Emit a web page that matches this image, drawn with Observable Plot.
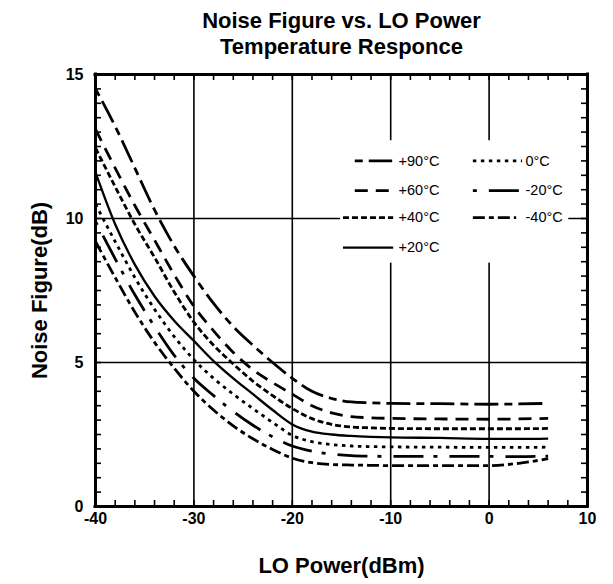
<!DOCTYPE html>
<html>
<head>
<meta charset="utf-8">
<script src="https://cdn.jsdelivr.net/npm/d3@7"></script>
<script src="https://cdn.jsdelivr.net/npm/@observablehq/plot@0.6"></script>
<style>
  html, body { margin: 0; padding: 0; background: #fff; overflow: hidden; }
  #chart svg { display: block; }
</style>
</head>
<body>
<div id="chart"></div>
<script>
// ---- data ----
const loPower = [-40,-38,-36,-34,-32,-30,-28,-26,-24,-22,-20,-18,-16,-14,-12,-10,-5,0,3,6];
const nfP90 = [14.5,13.2,11.75,10.3,9.05,8.0,7.05,6.25,5.6,5.0,4.45,4.0,3.75,3.63,3.6,3.58,3.57,3.55,3.56,3.58];
const nfP60 = [13.1,11.75,10.45,9.25,8.05,6.95,6.1,5.35,4.75,4.3,3.9,3.5,3.25,3.12,3.08,3.06,3.04,3.03,3.04,3.06];
const nfP40 = [12.45,11.1,9.8,8.65,7.45,6.4,5.6,4.95,4.35,3.85,3.4,3.05,2.85,2.76,2.73,2.71,2.7,2.7,2.7,2.71];
const nfP20 = [11.6,9.8,8.4,7.3,6.45,5.75,5.05,4.45,3.9,3.35,2.85,2.6,2.5,2.45,2.42,2.4,2.38,2.35,2.35,2.36];
const nf0   = [10.5,9.2,7.95,6.85,5.9,5.1,4.45,3.9,3.4,2.92,2.47,2.25,2.15,2.1,2.08,2.07,2.06,2.05,2.05,2.06];
const nfM20 = [9.9,8.6,7.35,6.25,5.25,4.45,3.85,3.3,2.82,2.42,2.1,1.92,1.82,1.77,1.75,1.74,1.74,1.74,1.73,1.75];
const nfM40 = [9.2,7.95,6.75,5.7,4.8,4.0,3.35,2.8,2.35,1.98,1.68,1.52,1.46,1.44,1.43,1.42,1.42,1.42,1.5,1.66];
const seriesLabels = ["+90°C","+60°C","+40°C","+20°C","0°C","-20°C","-40°C"];
const xTickLabels = [-40,-30,-20,-10,0,10];
const yTickLabels = [0,5,10,15];
const titleLines = ["Noise Figure vs. LO Power","Temperature Responce"];
const xLabel = "LO Power(dBm)";
const yLabel = "Noise Figure(dB)";

// ---- styling ----
const dashes = ["8,6,24,6","13,8","6,3","none","3.5,4.5","4,12,30,10","12,4,5,4"];
const values = [nfP90,nfP60,nfP40,nfP20,nf0,nfM20,nfM40];
const font = "Liberation Sans, Arial, Helvetica, sans-serif";
const W = 613, H = 584, mL = 95, mR = 26, mT = 74, mB = 78;
const innerW = W - mL - mR, innerH = H - mT - mB, tickLen = 6;

// legend layout (data units)
const legendBox = {x1:-15.1, x2:8.1, y1:8.45, y2:12.7};
const legendRows = [12.0, 10.97, 10.03, 8.99];
const legendItems = [
  {row:0,x1:-13.6,x2:-9.8,tx:-9.2},
  {row:1,x1:-13.6,x2:-9.9,tx:-9.2},
  {row:2,x1:-14.8,x2:-9.7,tx:-9.2},
  {row:3,x1:-14.8,x2:-9.7,tx:-9.2},
  {row:0,x1:-1.6,x2:3.4,tx:3.7},
  {row:1,x1:-1.6,x2:3.4,tx:3.7},
  {row:2,x1:-1.6,x2:2.8,tx:3.7}
];

const marks = [];
marks.push(Plot.gridX([-30,-20,-10,0], {stroke:"black", strokeOpacity:1, strokeWidth:1.6}));
marks.push(Plot.gridY([5,10], {stroke:"black", strokeOpacity:1, strokeWidth:1.6}));
marks.push(Plot.rect([legendBox], {x1:"x1", x2:"x2", y1:"y1", y2:"y2", fill:"white"}));
values.forEach((v, i) => {
  const rows = loPower.map((x, j) => ({x, y: v[j]}));
  marks.push(Plot.line(rows, {x:"x", y:"y", stroke:"black", strokeWidth: i === 3 ? 2.3 : 2.8,
    strokeDasharray: dashes[i], curve:"monotone-x", strokeLinecap:"butt"}));
});
legendItems.forEach((it, i) => {
  const y = legendRows[it.row];
  marks.push(Plot.ruleY([y], {x1: it.x1, x2: it.x2, stroke:"black", strokeWidth: i === 3 ? 2.3 : 2.8, strokeDasharray: dashes[i]}));
  marks.push(Plot.text([seriesLabels[i]], {x: it.tx, y: y, text: d => d, textAnchor:"start", fontSize:14.5, fontWeight:"normal", fill:"black"}));
});
// minor ticks (inward)
const minorX = d3.range(-40, 10.01, 2);
const minorY = d3.range(0, 15.01, 0.5);
marks.push(Plot.tickX(minorX, {x: d => d, insetTop: innerH - tickLen, stroke:"black", strokeWidth:1.6}));
marks.push(Plot.tickX(minorX, {x: d => d, insetBottom: innerH - tickLen, stroke:"black", strokeWidth:1.6}));
marks.push(Plot.tickY(minorY, {y: d => d, insetRight: innerW - tickLen, stroke:"black", strokeWidth:1.6}));
marks.push(Plot.tickY(minorY, {y: d => d, insetLeft: innerW - tickLen, stroke:"black", strokeWidth:1.6}));
// labelled axes
marks.push(Plot.axisX(xTickLabels, {anchor:"bottom", tickSize:0, tickPadding:6, label:null, fontSize:16, fontWeight:"bold", tickFormat: d => String(d)}));
marks.push(Plot.axisY(yTickLabels, {anchor:"left", tickSize:0, tickPadding:12, label:null, fontSize:16, fontWeight:"bold", tickFormat: d => String(d)}));
// frame
marks.push(Plot.ruleX([-40, 10], {stroke:"black", strokeWidth:3, strokeLinecap:"square"}));
marks.push(Plot.ruleY([0, 15], {stroke:"black", strokeWidth:3, strokeLinecap:"square"}));
// titles and axis labels
marks.push(Plot.text([titleLines[0]], {frameAnchor:"top", dy:-54, text:d=>d, fontSize:22, fontWeight:"bold", lineAnchor:"middle"}));
marks.push(Plot.text([titleLines[1]], {frameAnchor:"top", dy:-28, text:d=>d, fontSize:22, fontWeight:"bold", lineAnchor:"middle"}));
marks.push(Plot.text([xLabel], {frameAnchor:"bottom", dy:59, text:d=>d, fontSize:22, fontWeight:"bold", lineAnchor:"middle", textAnchor:"middle"}));
marks.push(Plot.text([yLabel], {frameAnchor:"left", dx:-56, rotate:-90, text:d=>d, fontSize:22, fontWeight:"bold", lineAnchor:"middle", textAnchor:"middle"}));

const chart = Plot.plot({
  width: W, height: H,
  marginLeft: mL, marginRight: mR, marginTop: mT, marginBottom: mB,
  x: {domain:[-40,10]},
  y: {domain:[0,15]},
  style: {fontFamily: font, fontSize:"14px", color:"black", background:"white", overflow:"visible"},
  marks
});
document.getElementById("chart").appendChild(chart);
</script>
</body>
</html>
